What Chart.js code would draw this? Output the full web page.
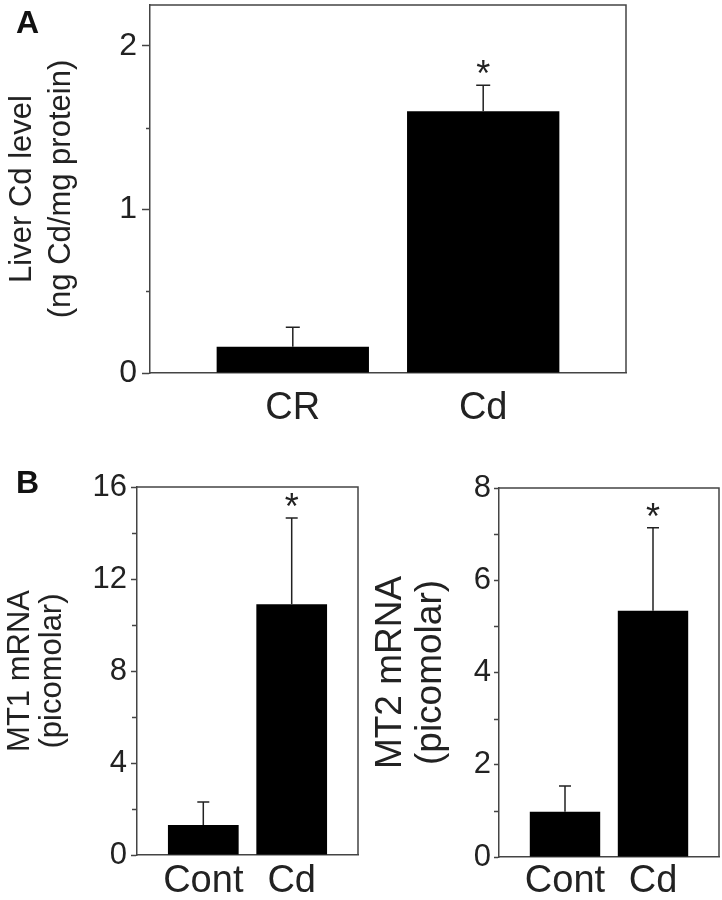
<!DOCTYPE html>
<html>
<head>
<meta charset="utf-8">
<script src="https://cdn.jsdelivr.net/npm/chart.js@4"></script>
<style>
  body { margin: 0; background: #fff; }
  #wrap { position: relative; width: 722px; height: 900px; overflow: hidden; font-family: "Liberation Sans", Arial, sans-serif; }
  .panel { position: absolute; }
  .tag { position: absolute; font-weight: bold; font-size: 32px; line-height: 32px; color: #111; }
</style>
</head>
<body>
<div id="wrap">
  <div class="panel" style="left:0;top:0;width:722px;height:440px"><canvas id="chartA"></canvas></div>
  <div class="panel" style="left:0;top:440px;width:361px;height:460px"><canvas id="chartMT1"></canvas></div>
  <div class="panel" style="left:361px;top:440px;width:361px;height:460px"><canvas id="chartMT2"></canvas></div>
  <div class="tag" style="left:16px;top:6px">A</div>
  <div class="tag" style="left:16px;top:466px">B</div>
</div>
<script>
// Panel A: liver Cd
const categoriesA = ['CR', 'Cd'];
const liverCd = [0.16, 1.60];
const liverCdErr = [0.12, 0.16];
const starsA = ['', '*'];
const yTicksA = [0, 1, 2];

// Panel B: MT mRNA
const categoriesB = ['Cont', 'Cd'];
const mt1 = [1.3, 10.9];
const mt1Err = [1.0, 3.75];
const yTicksMT1 = [0, 4, 8, 12, 16];
const mt2 = [0.98, 5.34];
const mt2Err = [0.56, 1.8];
const yTicksMT2 = [0, 2, 4, 6, 8];
const starsB = ['', '*'];

Chart.defaults.font.family = "'Liberation Sans', Arial, sans-serif";
Chart.defaults.color = '#222';

const axisColor = '#444';

function isMajor(list, v) {
  return list.some(t => Math.abs(t - v) < 1e-9);
}

// error bars (upper only), stars, minor ticks and the top/right frame
const errorBars = {
  id: 'errorBars',
  afterDatasetsDraw(chart, args, o) {
    const ctx = chart.ctx;
    const y = chart.scales.y;
    const meta = chart.getDatasetMeta(0);
    const a = chart.chartArea;
    ctx.save();
    ctx.strokeStyle = '#222';
    ctx.lineWidth = 1.5;
    meta.data.forEach((bar, i) => {
      const top = y.getPixelForValue(o.means[i] + o.errors[i]);
      ctx.beginPath();
      ctx.moveTo(bar.x, bar.y);
      ctx.lineTo(bar.x, top);
      ctx.moveTo(bar.x - o.cap, top);
      ctx.lineTo(bar.x + o.cap, top);
      ctx.stroke();
      if (o.stars[i]) {
        const fs = 36;
        ctx.fillStyle = '#222';
        ctx.font = fs + "px 'Liberation Sans', Arial, sans-serif";
        ctx.textAlign = 'center';
        ctx.textBaseline = 'alphabetic';
        ctx.fillText(o.stars[i], bar.x, top - 20 + 0.58 * fs);
      }
    });
    // minor ticks, shorter than the major ones
    ctx.strokeStyle = axisColor;
    ctx.beginPath();
    y.ticks.forEach(t => {
      if (isMajor(o.yTicks, t.value)) return;
      const py = Math.round(y.getPixelForValue(t.value)) + 0.5;
      ctx.moveTo(a.left - o.minorLen, py);
      ctx.lineTo(a.left, py);
    });
    ctx.stroke();
    ctx.beginPath();
    ctx.moveTo(a.left, a.top);
    ctx.lineTo(a.right, a.top);
    ctx.lineTo(a.right, a.bottom);
    ctx.stroke();
    ctx.restore();
  }
};

function makePanel(id, p) {
  const step = p.yTicks[1] - p.yTicks[0];
  const allTicks = [];
  for (let v = 0; v <= p.yTicks[p.yTicks.length - 1] + 1e-9; v += step / 2) allTicks.push(v);

  return new Chart(document.getElementById(id), {
    type: 'bar',
    data: {
      datasets: [{
        data: p.means.map((m, i) => ({ x: i, y: m })),
        backgroundColor: '#000',
        borderWidth: 0,
        barPercentage: 0.8,
        categoryPercentage: 1
      }]
    },
    options: {
      responsive: true,
      maintainAspectRatio: false,
      animation: false,
      layout: { padding: p.padding },
      plugins: {
        legend: { display: false },
        tooltip: { enabled: false },
        errorBars: { means: p.means, errors: p.errors, stars: p.stars, cap: p.cap, yTicks: p.yTicks, minorLen: p.minorLen }
      },
      scales: {
        x: {
          type: 'linear',
          min: -0.75,
          max: 1.75,
          offset: false,
          afterBuildTicks: s => { s.ticks = p.categories.map((c, i) => ({ value: i })); },
          afterFit: s => { s.height = p.xHeight; s.paddingLeft = 0; s.paddingRight = 0; },
          grid: { display: false, drawTicks: false },
          border: { display: true, color: axisColor, width: 1.5 },
          ticks: {
            padding: p.xPad,
            maxRotation: 0,
            font: { size: p.xFont },
            callback: v => p.categories[v]
          }
        },
        y: {
          min: 0,
          max: p.yMax,
          afterBuildTicks: s => { s.ticks = allTicks.map(v => ({ value: v })); },
          afterFit: s => { s.width = p.yWidth; s.paddingTop = 0; s.paddingBottom = 0; },
          grid: {
            drawOnChartArea: false,
            drawTicks: true,
            tickLength: p.tickLen,
            tickWidth: 1.5,
            tickColor: ctx => (ctx.tick && isMajor(p.yTicks, ctx.tick.value) ? axisColor : 'rgba(0,0,0,0)')
          },
          border: { display: true, color: axisColor, width: 1.5 },
          ticks: {
            padding: p.yPad,
            font: { size: p.yFont },
            callback: v => (isMajor(p.yTicks, v) ? String(v) : '')
          },
          title: {
            display: true,
            text: p.title,
            font: { size: p.titleFont, lineHeight: p.titleLH },
            padding: { top: p.titlePad, bottom: 0 },
            color: '#222'
          }
        }
      }
    },
    plugins: [errorBars]
  });
}

makePanel('chartA', {
  categories: categoriesA, means: liverCd, errors: liverCdErr, stars: starsA, yTicks: yTicksA,
  yMax: 2.25, padding: { left: 0, top: 5, right: 96, bottom: 0 },
  yWidth: 150, xHeight: 67, tickLen: 8, minorLen: 4, yPad: 5, xPad: 13, xFont: 38, yFont: 32,
  title: ['Liver Cd level', '(ng Cd/mg protein)'], titleFont: 31, titleLH: 1.25, titlePad: 3, cap: 7
});

makePanel('chartMT1', {
  categories: categoriesB, means: mt1, errors: mt1Err, stars: starsB, yTicks: yTicksMT1,
  yMax: 16, padding: { left: 0, top: 47, right: 3, bottom: 0 },
  yWidth: 137, xHeight: 45, tickLen: 6, minorLen: 5, yPad: 4, xFont: 38, xPad: 4, yFont: 31,
  title: ['MT1 mRNA', '(picomolar)'], titleFont: 31, titleLH: 1.02, titlePad: 5, cap: 6
});

makePanel('chartMT2', {
  categories: categoriesB, means: mt2, errors: mt2Err, stars: starsB, yTicks: yTicksMT2,
  yMax: 8, padding: { left: 0, top: 48, right: 3, bottom: 0 },
  yWidth: 138, xHeight: 43, tickLen: 5, minorLen: 5, yPad: 3, xFont: 38, xPad: 2, yFont: 31,
  title: ['MT2 mRNA', '(picomolar)'], titleFont: 37, titleLH: 1.1, titlePad: 9, cap: 6
});
</script>
</body>
</html>
